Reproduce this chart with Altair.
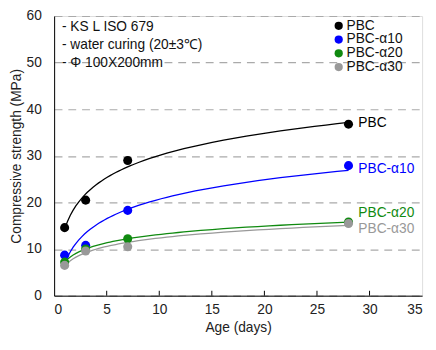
import altair as alt
import pandas as pd

series = ["PBC", "PBC-α10", "PBC-α20", "PBC-α30"]
colors = ["#000000", "#0000ff", "#108a10", "#999999"]
days = [1, 3, 7, 28]
pbc = [14.6, 20.5, 29.0, 36.8]
a10 = [8.7, 10.8, 18.3, 27.9]
a20 = [7.2, 10.0, 12.2, 15.8]
a30 = [6.5, 9.6, 10.5, 15.5]
x_ticks = [5, 10, 15, 20, 25, 30]
notes = ["- KS L ISO 679", "- water curing (20±3℃)", "- Φ 100X200mm"]

rows = []
for s, vals in zip(series, [pbc, a10, a20, a30]):
    for d, v in zip(days, vals):
        rows.append({"series": s, "day": d, "strength": v})
df = pd.DataFrame(rows)

W, H = 375, 285
FONT = "Liberation Sans"
FS = 14

xs = alt.Scale(domain=[0, 35], nice=False, zero=False)
ys = alt.Scale(domain=[0, 60], nice=False)
cs = alt.Scale(domain=series, range=colors)

leg = alt.Legend(
    title=None, orient="none", legendX=283, legendY=3,
    symbolType="circle", symbolSize=70, labelFontSize=FS, labelFont=FONT,
    rowPadding=0, labelOffset=1, symbolStrokeWidth=0, labelColor="#111")
col = alt.Color("series:N", scale=cs, legend=leg)

base = alt.Chart(df)

xax = alt.Axis(values=[0, 5, 10, 15, 20, 25, 30, 35], ticks=False, grid=False,
               domainColor="black", labelFontSize=FS, labelPadding=7,
               titleFontSize=FS, titleFontWeight="normal", titlePadding=5,
               labelColor="#222", titleColor="#222", labelFont=FONT, titleFont=FONT)
yax = alt.Axis(values=[0, 10, 20, 30, 40, 50, 60], ticks=False, grid=True,
               gridDash=[8, 6], gridColor="#aaaaaa", gridWidth=1.2,
               domainColor="black", labelFontSize=FS, labelPadding=13,
               titleFontSize=FS, titleFontWeight="normal", titlePadding=3,
               labelColor="#222", titleColor="#222", labelFont=FONT, titleFont=FONT)

fits = base.transform_regression(
    "day", "strength", groupby=["series"], method="log", extent=[1, 28]
).mark_line(strokeWidth=1.3).encode(
    x=alt.X("day:Q", scale=xs, axis=xax, title="Age (days)"),
    y=alt.Y("strength:Q", scale=ys, axis=yax, title="Compressive strength (MPa)"),
    color=col,
)

points = base.mark_circle(size=85, opacity=1).encode(
    x=alt.X("day:Q"),
    y=alt.Y("strength:Q"),
    color=col,
)

last = base.transform_filter(alt.datum.day == 28)


def lab(names, dy):
    return last.transform_filter(
        alt.FieldOneOfPredicate(field="series", oneOf=names)
    ).mark_text(align="left", dx=10, dy=dy, fontSize=FS, font=FONT).encode(
        x=alt.X("day:Q"),
        y=alt.Y("strength:Q"),
        text="series:N",
        color=col,
    )


labels = lab(["PBC"], -1) + lab(["PBC-α10"], 3) + lab(["PBC-α20"], -9) + lab(["PBC-α30"], 6)

tick_df = pd.DataFrame({"day": x_ticks})
ticks = alt.Chart(tick_df).mark_rule(color="black", strokeWidth=1).encode(
    x=alt.X("day:Q"),
    y=alt.value(H),
    y2=alt.value(H - 5),
)

note_layers = [
    alt.Chart(pd.DataFrame({"note": [n]})).mark_text(
        align="left", baseline="middle", fontSize=FS, font=FONT, color="#111"
    ).encode(x=alt.value(8), y=alt.value(11 + 18.5 * i), text="note:N")
    for i, n in enumerate(notes)
]

chart = alt.layer(fits, points, labels, ticks, *note_layers).properties(
    width=W, height=H,
    padding={"left": 47, "top": 5, "right": 6, "bottom": 42},
    autosize=alt.AutoSizeParams(type="none"),
).configure_view(stroke="black", strokeWidth=1.2).configure(background="white")

chart.save("out.html", embed_options={"renderer": "svg", "actions": False})
